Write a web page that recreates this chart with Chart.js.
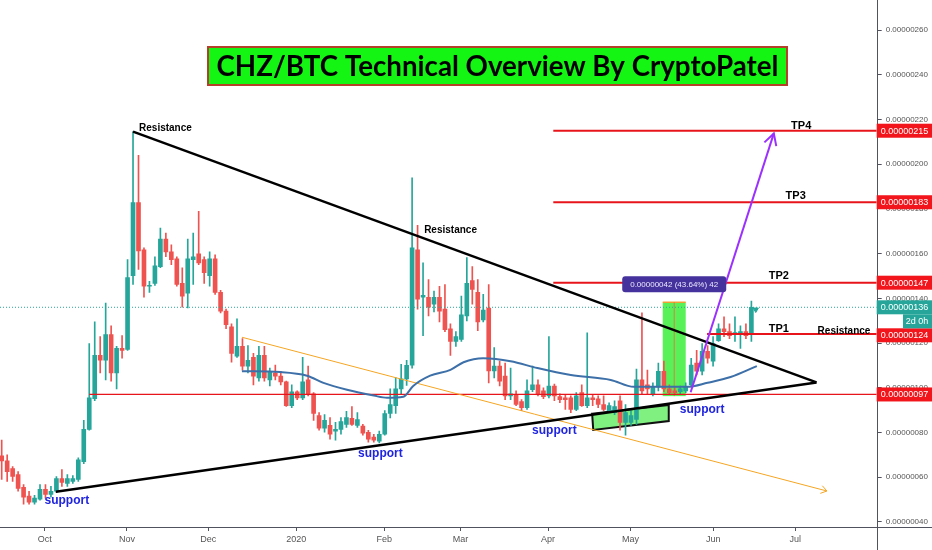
<!DOCTYPE html>
<html>
<head>
<meta charset="utf-8">
<script src="https://cdn.jsdelivr.net/npm/chart.js@4.4.0/dist/chart.umd.min.js"></script>
<style>
  html, body { margin: 0; padding: 0; background: #fff; }
</style>
</head>
<body>
<canvas id="myChart" width="932" height="550"></canvas>
<script>
// axis labels
const monthLabels = ["Oct", "Nov", "Dec", "2020", "Feb", "Mar", "Apr", "May", "Jun", "Jul"];
const monthPos = [7.85, 22.88, 37.74, 53.83, 69.93, 83.83, 99.85, 114.89, 130.02, 145.03];
const yTicks = [40, 60, 80, 100, 120, 140, 160, 180, 200, 220, 240, 260];

// 2 day candles, price in satoshi (1e-8 BTC)
const opens = [
  69.5, 67.3, 63.8, 61.2, 55.4, 51.5, 48.8, 50.1, 54.5, 52.3,
  53.7, 59.4, 57.2, 58.1, 59.0, 66.9, 81.4, 95.1, 114.5, 112.3,
  123.8, 106.6, 117.6, 117.2, 150.2, 182.8, 161.7, 145.4, 146.7, 154.2,
  166.5, 160.8, 157.7, 146.7, 142.3, 157.3, 159.9, 157.3, 150.2, 157.7,
  142.7, 134.3, 127.3, 114.1, 118.5, 109.7, 113.6, 104.4, 114.5, 103.5,
  106.6, 105.2, 102.6, 92.0, 98.2, 95.5, 103.5, 97.3, 87.6, 81.9,
  83.2, 80.6, 81.4, 83.6, 86.3, 83.2, 82.8, 80.1, 77.9, 76.1,
  79.2, 88.5, 92.0, 99.5, 104.0, 110.1, 161.7, 140.5, 140.5, 137.4,
  140.5, 135.2, 126.4, 120.7, 121.6, 132.1, 148.0, 142.7, 130.4, 135.7,
  107.5, 109.7, 105.2, 96.4, 96.9, 93.8, 91.1, 99.1, 101.3, 98.6,
  96.4, 100.8, 96.0, 95.5, 95.5, 90.3, 97.8, 92.0, 95.5, 95.1,
  92.5, 89.8, 88.9, 94.2, 84.5, 84.5, 85.8, 103.5, 101.3, 97.3,
  100.4, 107.4, 99.5, 98.6, 98.2, 98.6, 101.3, 111.0, 107.4, 116.3,
  111.9, 121.1, 126.4, 125.1, 124.2, 123.8, 125.1, 124.2
];
const highs = [
  76.6, 70.0, 64.7, 62.5, 56.7, 53.7, 51.9, 56.7, 56.7, 55.9,
  60.3, 63.4, 61.2, 60.7, 68.6, 85.4, 119.8, 129.5, 122.9, 137.9,
  127.7, 118.5, 123.3, 157.3, 214.6, 204.0, 162.6, 147.6, 158.6, 171.4,
  169.2, 163.9, 158.6, 153.7, 166.5, 169.2, 178.9, 158.6, 160.8, 159.5,
  143.6, 135.2, 128.6, 130.8, 122.0, 118.9, 115.4, 118.5, 118.5, 108.8,
  110.1, 107.4, 103.0, 101.3, 98.6, 113.6, 109.7, 97.8, 88.9, 88.0,
  86.7, 84.5, 86.7, 89.4, 91.6, 88.9, 83.6, 81.0, 79.2, 80.6,
  89.8, 99.5, 104.5, 110.5, 112.3, 193.9, 172.7, 155.9, 148.4, 143.2,
  145.4, 146.2, 128.6, 125.1, 141.0, 158.2, 154.2, 148.4, 141.8, 146.2,
  118.0, 111.9, 111.0, 108.8, 98.6, 94.7, 103.5, 109.7, 103.5, 100.0,
  122.9, 101.7, 97.3, 96.9, 96.4, 97.8, 101.3, 124.6, 96.9, 96.4,
  96.4, 93.3, 94.2, 96.4, 92.5, 89.8, 108.4, 133.5, 107.9, 102.2,
  111.0, 111.9, 101.3, 100.0, 100.8, 102.2, 113.2, 116.7, 119.8, 118.9,
  122.9, 128.6, 131.7, 128.6, 131.7, 127.7, 128.6, 138.8
];
const lows = [
  59.0, 58.1, 58.1, 53.7, 47.9, 47.9, 47.9, 49.7, 50.6, 51.0,
  53.2, 55.9, 55.9, 57.2, 58.1, 66.0, 81.0, 94.2, 106.6, 103.5,
  103.0, 99.5, 113.2, 116.7, 146.2, 152.9, 140.5, 142.7, 145.8, 153.7,
  158.6, 155.1, 145.4, 136.1, 135.7, 146.2, 155.1, 146.7, 145.4, 141.8,
  133.5, 126.4, 111.4, 113.6, 107.9, 106.6, 101.3, 103.0, 103.0, 100.8,
  103.5, 101.3, 91.6, 91.1, 94.7, 94.7, 96.4, 85.4, 81.0, 80.1,
  77.0, 76.6, 79.2, 82.3, 83.2, 82.3, 78.8, 75.7, 75.7, 75.3,
  78.8, 86.5, 88.5, 97.0, 101.0, 108.8, 135.2, 123.3, 132.1, 133.9,
  129.5, 125.1, 114.5, 118.5, 120.7, 129.9, 137.4, 125.5, 129.5, 102.2,
  104.4, 100.8, 94.7, 94.7, 92.0, 89.8, 90.3, 98.2, 96.4, 95.1,
  95.5, 94.2, 93.3, 90.3, 88.9, 89.8, 91.6, 91.1, 92.0, 91.1,
  89.8, 88.9, 88.0, 81.0, 78.8, 83.2, 83.6, 96.9, 96.9, 96.4,
  98.6, 98.2, 96.9, 96.9, 96.9, 97.8, 100.8, 105.7, 105.7, 111.0,
  109.7, 120.7, 122.9, 122.0, 120.7, 117.6, 122.0, 120.7
];
const closes = [
  67.3, 62.5, 60.3, 55.0, 51.0, 48.8, 50.6, 54.5, 52.3, 53.7,
  59.4, 57.6, 59.4, 59.4, 67.8, 81.4, 95.5, 114.5, 112.3, 123.8,
  106.6, 117.6, 116.7, 149.3, 182.8, 161.2, 145.4, 145.8, 154.6, 166.5,
  160.8, 157.3, 146.2, 141.0, 157.7, 158.6, 155.9, 151.5, 157.7, 142.7,
  134.3, 128.2, 115.4, 118.5, 109.7, 112.3, 105.2, 114.5, 104.4, 107.4,
  105.2, 102.6, 92.0, 98.2, 95.5, 102.6, 96.9, 88.5, 81.9, 85.4,
  79.2, 81.4, 84.9, 86.7, 83.6, 85.8, 79.7, 77.0, 76.6, 79.2,
  88.5, 92.5, 99.5, 104.0, 110.0, 162.6, 139.6, 141.4, 136.1, 140.5,
  134.3, 126.0, 120.7, 122.9, 132.6, 146.7, 144.0, 129.5, 134.8, 107.5,
  109.7, 103.0, 96.4, 97.3, 92.5, 91.1, 98.6, 101.3, 97.3, 96.0,
  100.8, 96.4, 94.7, 94.7, 90.3, 96.4, 92.0, 95.5, 94.7, 92.5,
  90.3, 92.0, 91.6, 84.5, 88.9, 87.6, 103.5, 98.6, 99.5, 100.4,
  107.4, 99.5, 97.8, 97.8, 99.5, 100.4, 110.1, 107.4, 116.3, 113.2,
  119.8, 126.4, 125.1, 123.3, 124.6, 125.1, 123.3, 136.0
];

// moving average (candle index, price)
const maX = [43.9, 50.9, 55.8, 58.8, 63.1, 68.0, 70.4, 73.4, 75.2, 78.3, 82.0, 84.4, 88.0, 93.0, 97.9, 104.0, 111.3, 115.5, 125.3, 129.0, 133.2, 138.0];
const maY = [107.4, 107.0, 105.4, 102.2, 99.1, 96.5, 95.5, 96.0, 100.8, 105.4, 108.0, 111.4, 113.2, 111.9, 108.8, 105.7, 103.5, 100.4, 100.4, 102.2, 104.8, 109.7];

// drawn levels and trend lines
const levels = [97, 124, 147, 183, 215];
const levelStart = [16.0, 128.9, 100.8, 100.8, 100.8];
const lastPrice = 136;
const resistX = [24.0, 148.9];
const resistY = [214.6, 102.4];
const supportX = [9.9, 148.9];
const supportY = [53.5, 102.4];
const channelX = [43.9, 150.8];
const channelY = [122.6, 53.8];
const targetX = [125.9, 141.1];
const targetY = [98.0, 213.8];
const measureX = [120.8, 125.0];
const measureY = [96.25, 138.25];
const zoneX = [107.9, 121.9, 121.9, 108.1];
const zoneY = [88.4, 92.3, 85.1, 81.1];

const xMin = -0.31, xMax = 159.9;
const yMin = 37.7, yMax = 269.55;

const notes = [
  { t: "Resistance", x: 25.1, y: 216.3, align: "left", font: "bold 10px 'Liberation Sans'", color: "#000" },
  { t: "Resistance", x: 77.2, y: 170.5, align: "left", font: "bold 10px 'Liberation Sans'", color: "#000" },
  { t: "TP4", x: 146.1, y: 217.2, align: "center", font: "bold 11px 'Liberation Sans'", color: "#000" },
  { t: "TP3", x: 145.1, y: 185.9, align: "center", font: "bold 11px 'Liberation Sans'", color: "#000" },
  { t: "TP2", x: 142.0, y: 149.9, align: "center", font: "bold 11px 'Liberation Sans'", color: "#000" },
  { t: "TP1", x: 142.0, y: 126.1, align: "center", font: "bold 11px 'Liberation Sans'", color: "#000" },
  { t: "Resistance", x: 149.1, y: 125.2, align: "left", font: "bold 10px 'Liberation Sans'", color: "#000" },
  { t: "support", x: 11.9, y: 49.6, align: "center", font: "bold 12px 'Liberation Sans'", color: "#1f24e0" },
  { t: "support", x: 69.2, y: 70.7, align: "center", font: "bold 12px 'Liberation Sans'", color: "#1f24e0" },
  { t: "support", x: 101.0, y: 80.8, align: "center", font: "bold 12px 'Liberation Sans'", color: "#1f24e0" },
  { t: "support", x: 128.0, y: 90.0, align: "center", font: "bold 12px 'Liberation Sans'", color: "#1f24e0" },
];

const UP = "#26a69a";
const DOWN = "#ef5350";
const candleColors = closes.map((c, i) => (c >= opens[i] ? UP : DOWN));
const fmt = (v) => (v / 1e8).toFixed(8);
const pts = (xs, ys) => xs.map((x, i) => ({ x: x, y: ys[i] }));

function arrowHead(ctx, x0, y0, x1, y1, len, ang) {
  const a = Math.atan2(y1 - y0, x1 - x0);
  ctx.beginPath();
  ctx.moveTo(x1 - len * Math.cos(a - ang), y1 - len * Math.sin(a - ang));
  ctx.lineTo(x1, y1);
  ctx.lineTo(x1 - len * Math.cos(a + ang), y1 - len * Math.sin(a + ang));
  ctx.stroke();
}

const drawings = {
  id: "drawings",
  beforeDatasetsDraw(chart) {
    const { ctx } = chart;
    const x = chart.scales.x, y = chart.scales.y;
    ctx.save();
    // measure box
    const bx0 = x.getPixelForValue(measureX[0]), bx1 = x.getPixelForValue(measureX[1]);
    const by0 = y.getPixelForValue(measureY[1]), by1 = y.getPixelForValue(measureY[0]);
    ctx.fillStyle = "rgba(70,240,70,0.9)";
    ctx.fillRect(bx0, by0, bx1 - bx0, by1 - by0);
    ctx.strokeStyle = "#f0a030";
    ctx.lineWidth = 1.5;
    ctx.beginPath();
    ctx.moveTo(bx0, by0);
    ctx.lineTo(bx1, by0);
    ctx.stroke();
    const mid = (bx0 + bx1) / 2;
    ctx.strokeStyle = "rgba(232,110,60,0.8)";
    ctx.lineWidth = 1;
    ctx.beginPath();
    ctx.moveTo(mid, by0);
    ctx.lineTo(mid, by1);
    ctx.stroke();
    // support zone
    ctx.beginPath();
    zoneX.forEach((v, i) => {
      const px = x.getPixelForValue(v), py = y.getPixelForValue(zoneY[i]);
      if (i === 0) ctx.moveTo(px, py); else ctx.lineTo(px, py);
    });
    ctx.closePath();
    ctx.fillStyle = "#80f080";
    ctx.fill();
    ctx.strokeStyle = "#111";
    ctx.lineWidth = 2;
    ctx.stroke();
    ctx.restore();
  },
  afterDatasetsDraw(chart) {
    const { ctx } = chart;
    const x = chart.scales.x, y = chart.scales.y;
    ctx.save();
    // arrow heads
    ctx.lineWidth = 2;
    ctx.strokeStyle = "#9b30ff";
    arrowHead(ctx, x.getPixelForValue(targetX[0]), y.getPixelForValue(targetY[0]),
      x.getPixelForValue(targetX[1]), y.getPixelForValue(targetY[1]), 13, 0.5);
    ctx.lineWidth = 1;
    ctx.strokeStyle = "#f5a623";
    arrowHead(ctx, x.getPixelForValue(channelX[0]), y.getPixelForValue(channelY[0]),
      x.getPixelForValue(channelX[1]), y.getPixelForValue(channelY[1]), 7, 0.6);

    // measure label
    const lx = x.getPixelForValue((measureX[0] + measureX[1]) / 2);
    const ly = y.getPixelForValue(measureY[1] + 8.1);
    ctx.fillStyle = "#46329c";
    ctx.beginPath();
    ctx.roundRect(lx - 52, ly - 8, 104, 16, 3);
    ctx.fill();
    ctx.fillStyle = "#ece8ff";
    ctx.font = "8px 'Liberation Sans'";
    ctx.textAlign = "center";
    ctx.textBaseline = "middle";
    const diff = measureY[1] - measureY[0];
    ctx.fillText(fmt(diff) + " (" + (diff / measureY[0] * 100).toFixed(2) + "%) " + Math.round(diff), lx, ly + 0.5);

    // text notes
    notes.forEach((n) => {
      ctx.font = n.font;
      ctx.fillStyle = n.color;
      ctx.textAlign = n.align;
      ctx.textBaseline = "middle";
      ctx.fillText(n.t, x.getPixelForValue(n.x), y.getPixelForValue(n.y));
    });
    ctx.restore();
  },
  afterDraw(chart) {
    const { ctx, chartArea } = chart;
    const y = chart.scales.y;
    ctx.save();
    // axis lines
    ctx.strokeStyle = "#50535e";
    ctx.lineWidth = 1;
    ctx.beginPath();
    ctx.moveTo(0, Math.round(chartArea.bottom) + 0.5);
    ctx.lineTo(chart.width, Math.round(chartArea.bottom) + 0.5);
    ctx.moveTo(Math.round(chartArea.right) + 0.5, 0);
    ctx.lineTo(Math.round(chartArea.right) + 0.5, chart.height);
    ctx.stroke();

    // price boxes on the axis
    const boxX = chartArea.right;
    const boxW = chart.width - boxX;
    const box = (cy, color, text, left, w) => {
      ctx.fillStyle = color;
      ctx.fillRect(left, cy - 7, w, 14);
      ctx.fillStyle = "#fff";
      ctx.font = "9px 'Liberation Sans'";
      ctx.textAlign = "left";
      ctx.textBaseline = "middle";
      ctx.fillText(text, left + 4, cy + 0.5);
    };
    levels.forEach((v) => {
      let cy = y.getPixelForValue(v);
      if (v === 124) cy = Math.max(cy, y.getPixelForValue(lastPrice) + 28);
      box(cy, "#f2151b", fmt(v), boxX, boxW);
    });
    const lp = y.getPixelForValue(lastPrice);
    box(lp, UP, fmt(lastPrice), boxX, boxW);
    ctx.fillStyle = UP;
    ctx.fillRect(903, lp + 7, chart.width - 903, 14);
    ctx.fillStyle = "#fff";
    ctx.font = "9px 'Liberation Sans'";
    ctx.textAlign = "center";
    ctx.fillText("2d 0h", 917, lp + 14.5);

    // title
    const title = "CHZ/BTC Technical Overview By CryptoPatel";
    ctx.fillStyle = "#14f514";
    ctx.fillRect(208, 47, 579, 38);
    ctx.strokeStyle = "#b5402a";
    ctx.lineWidth = 2;
    ctx.strokeRect(208, 47, 579, 38);
    ctx.font = "bold 24px Lato";
    const w = ctx.measureText(title).width;
    const size = 24 * 562 / w;
    ctx.font = "bold " + size.toFixed(2) + "px Lato";
    ctx.fillStyle = "#000";
    ctx.textAlign = "center";
    ctx.textBaseline = "middle";
    ctx.fillText(title, 497.5, 67);
    ctx.restore();
  },
};

const ctx = document.getElementById("myChart");

const chart = new Chart(ctx, {
  type: "bar",
  data: {
    datasets: [
      {
        type: "line",
        label: "purple target",
        data: pts(targetX, targetY),
        borderColor: "#9b30ff",
        borderWidth: 2,
        pointRadius: 0,
        order: 1,
      },
      {
        type: "line",
        label: "resistance",
        data: pts(resistX, resistY),
        borderColor: "#000",
        borderWidth: 2.5,
        pointRadius: 0,
        order: 2,
      },
      {
        type: "line",
        label: "support",
        data: pts(supportX, supportY),
        borderColor: "#000",
        borderWidth: 2.5,
        pointRadius: 0,
        order: 2,
      },
      {
        type: "line",
        label: "ma",
        data: pts(maX, maY),
        borderColor: "#3d6fa8",
        borderWidth: 2,
        pointRadius: 0,
        cubicInterpolationMode: "monotone",
        order: 3,
      },
      {
        type: "line",
        label: "channel",
        data: pts(channelX, channelY),
        borderColor: "#f5a623",
        borderWidth: 1,
        pointRadius: 0,
        order: 3,
      },
      ...levels.map((v, i) => ({
        type: "line",
        label: "level " + v,
        data: [{ x: levelStart[i], y: v }, { x: xMax, y: v }],
        borderColor: "#e8141b",
        borderWidth: v === 97 ? 1.2 : 2,
        pointRadius: 0,
        order: 4,
      })),
      {
        type: "line",
        label: "last price",
        data: [{ x: xMin, y: lastPrice }, { x: xMax, y: lastPrice }],
        borderColor: UP,
        borderWidth: 1,
        borderDash: [1, 2],
        pointRadius: 0,
        order: 4,
      },
      {
        type: "line",
        label: "marker",
        data: [{ x: opens.length - 0.2, y: lastPrice - 1 }],
        showLine: false,
        pointStyle: "triangle",
        rotation: 180,
        pointRadius: 3,
        pointBackgroundColor: UP,
        pointBorderColor: UP,
        order: 4,
      },
      {
        label: "bodies",
        data: opens.map((o, i) => ({ x: i, y: [o, closes[i]] })),
        backgroundColor: candleColors,
        barThickness: 4,
        minBarLength: 1,
        grouped: false,
        order: 5,
      },
      {
        label: "wicks",
        data: lows.map((l, i) => ({ x: i, y: [l, highs[i]] })),
        backgroundColor: candleColors,
        barThickness: 1,
        grouped: false,
        order: 6,
      },
    ],
  },
  options: {
    responsive: false,
    animation: false,
    devicePixelRatio: 1,
    layout: { padding: 0, autoPadding: false },
    plugins: {
      legend: { display: false },
      tooltip: { enabled: false },
    },
    scales: {
      x: {
        type: "linear",
        min: xMin,
        max: xMax,
        offset: false,
        grid: { offset: false, drawOnChartArea: false, drawTicks: true, tickLength: 4, color: "#50535e" },
        border: { display: false },
        afterBuildTicks: (s) => {
          s.ticks = monthPos.map((v) => ({ value: v }));
        },
        afterFit: (s) => {
          s.height = 23;
        },
        ticks: {
          callback: (v, i) => monthLabels[i],
          autoSkip: false,
          maxRotation: 0,
          padding: 3,
          color: "#555",
          font: { size: 9, family: "'Liberation Sans'" },
        },
      },
      y: {
        position: "right",
        min: yMin,
        max: yMax,
        grid: { drawOnChartArea: false, drawTicks: true, tickLength: 5, color: "#50535e" },
        border: { display: false },
        afterBuildTicks: (s) => {
          s.ticks = yTicks.map((v) => ({ value: v }));
        },
        afterFit: (s) => {
          s.width = 55.3;
        },
        ticks: {
          callback: (v) => fmt(v),
          padding: 4,
          color: "#555",
          font: { size: 8, family: "'Liberation Sans'" },
        },
      },
    },
  },
  plugins: [drawings],
});
</script>
</body>
</html>
